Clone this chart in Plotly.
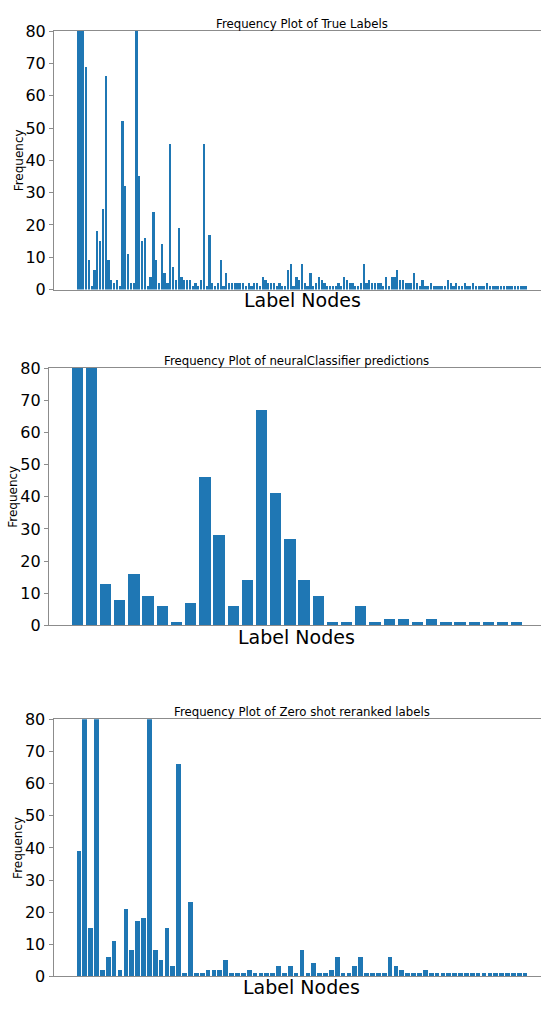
import plotly.graph_objects as go

# ---- data (bars above 80 are clipped by the axis) ----
true_label_counts = [
    160, 130, 110, 69, 9, 1, 6, 18, 15, 25, 66, 9, 3, 2, 3, 1, 52, 32, 11, 2,
    2, 95, 35, 15, 16, 1, 4, 24, 9, 2, 14, 5, 2, 45, 7, 3, 19, 4, 3, 3,
    3, 1, 2, 1, 3, 45, 1, 17, 2, 1, 2,
    9, 1, 5, 2, 2, 2, 2, 2, 2, 1, 2, 1, 2, 2, 1, 4, 3, 2, 2, 2,
    1, 2, 1, 1, 6, 8, 1, 4, 3, 8, 2, 1, 5, 1, 2, 4, 3, 2, 1, 1,
    1, 1, 2, 1, 4, 3, 2, 2, 1, 1, 2, 8, 2, 3, 2, 2, 2,
    2, 1, 4, 1, 4, 4, 6, 3, 3, 2, 2, 2, 5, 2, 1, 3, 1, 1, 2, 1,
    1, 1, 1, 1, 3, 2, 1, 2, 1, 1, 2, 1, 1, 2, 1, 1, 1, 1, 2, 1,
    1, 1, 1, 1, 1, 1, 1, 1, 1, 1, 1, 1, 1,
]
neural_counts = [
    190, 120, 13, 8, 16, 9, 6, 1, 7, 46, 28, 6, 14, 67, 41, 27, 14, 9, 1, 1,
    6, 1, 2, 2, 1, 2, 1, 1, 1, 1, 1, 1,
]
zeroshot_counts = [
    39, 130, 15, 100, 2, 6, 11, 2, 21, 8, 17, 18, 88, 8, 5, 15, 3, 66, 1, 23,
    1, 1, 2, 2, 2,
    5, 1, 1, 1, 2, 1, 1, 1, 1, 3, 1, 3, 1, 8, 1, 4, 1, 1, 2, 6,
    1, 1, 3, 6, 1, 1, 1,
    1, 6, 3, 2, 1, 1, 1, 2,
    1, 1, 1, 1, 1, 1, 1, 1, 1, 1, 1, 1, 1, 1, 1, 1, 1,
]
titles = [
    "Frequency Plot of True Labels",
    "Frequency Plot of neuralClassifier predictions",
    "Frequency Plot of Zero shot reranked labels",
]
x_title = "Label Nodes"
y_title = "Frequency"
y_ticks = [0, 10, 20, 30, 40, 50, 60, 70, 80]

# ---- layout geometry (pixels) ----
W, H = 541, 1009
BAR_COLOR = "#1f77b4"
SPINE = "#8c8c8c"
FONT = "DejaVu Sans"
FULL_AXIS_PX = 496.0

panels = [
    dict(counts=true_label_counts, left=54.0, top=22.5, bottom=286.0,
         xt_y=297, yt_x=19),
    dict(counts=neural_counts, left=48.8, top=366.0, bottom=628.3,
         xt_y=640, yt_x=13),
    dict(counts=zeroshot_counts, left=53.5, top=724.0, bottom=986.0,
         xt_y=997, yt_x=18),
]

fig = go.Figure()
annotations = []
for i, p in enumerate(panels, start=1):
    counts = p["counts"]
    n = len(counts)
    xs = list(range(n))
    span = n - 0.2
    ppu = FULL_AXIS_PX / (1.1 * span)
    xmin = -0.4 - 0.05 * span
    xmax = xmin + (W - p["left"]) / ppu
    suffix = "" if i == 1 else str(i)
    fig.add_trace(go.Bar(
        x=xs, y=counts, width=0.8, marker=dict(color=BAR_COLOR, line=dict(width=0)),
        xaxis="x" + suffix, yaxis="y" + suffix, showlegend=False,
        hoverinfo="x+y",
    ))
    fig.layout["xaxis" + suffix] = dict(
        domain=[p["left"] / W, 1.0], range=[xmin, xmax], showgrid=False,
        zeroline=False, showticklabels=False, ticks="", showline=True,
        linecolor=SPINE, linewidth=1, mirror=True, anchor="y" + suffix,
        fixedrange=True,
    )
    fig.layout["yaxis" + suffix] = dict(
        domain=[1 - p["bottom"] / H, 1 - p["top"] / H], range=[0, 80],
        tickvals=y_ticks, showgrid=False, zeroline=False, showline=True,
        linecolor=SPINE, linewidth=1, ticks="outside", ticklen=4,
        tickwidth=1, tickcolor=SPINE, anchor="x" + suffix,
        tickfont=dict(family=FONT, size=16, color="#000000"),
        fixedrange=True,
    )
    center_x = (p["left"] + FULL_AXIS_PX / 2) / W
    annotations.append(dict(
        text=titles[i - 1], x=center_x, y=1 - (p["top"] - 7.0) / H,
        xref="paper", yref="paper",
        xanchor="center", yanchor="middle", showarrow=False,
        font=dict(family=FONT, size=11.75, color="#000000"),
    ))
    annotations.append(dict(
        text=x_title, x=center_x, y=1 - p["xt_y"] / H,
        xref="paper", yref="paper", xanchor="center", yanchor="middle",
        showarrow=False, font=dict(family=FONT, size=19, color="#000000"),
    ))
    annotations.append(dict(
        text=y_title, x=p["yt_x"] / W, y=1 - (p["top"] + p["bottom"]) / 2 / H,
        xref="paper", yref="paper", xanchor="center", yanchor="middle",
        textangle=-90, showarrow=False,
        font=dict(family=FONT, size=12, color="#000000"),
    ))

fig.update_layout(
    width=W, height=H, autosize=False,
    margin=dict(l=0, r=0, t=0, b=0, pad=0),
    paper_bgcolor="white", plot_bgcolor="white",
    bargap=0, annotations=annotations,
    font=dict(family=FONT),
)

fig.write_html(
    "out.html",
    config={"displayModeBar": False},
    post_script="document.documentElement.style.margin='0';"
                "document.body.style.margin='0';"
                "document.body.style.padding='0';"
                "document.body.style.overflow='hidden';",
)
